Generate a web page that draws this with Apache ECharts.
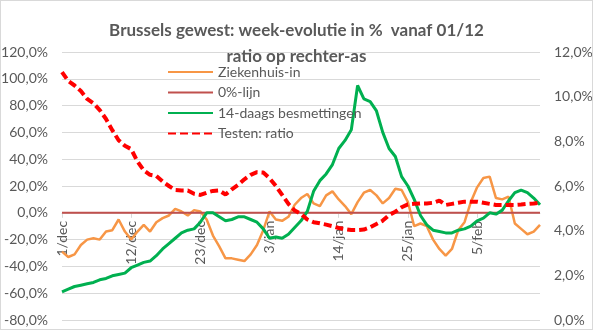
<!DOCTYPE html>
<html><head><meta charset="utf-8">
<script src="https://cdn.jsdelivr.net/npm/echarts@6/dist/echarts.min.js"></script>
<style>html,body{margin:0;padding:0;background:#fff}#c{width:591px;height:328px;border:1px solid #d9d9d9}</style>
</head><body><div id="c"></div>
<script>
const categories = [
'1/dec','2/dec','3/dec','4/dec','5/dec','6/dec','7/dec','8/dec','9/dec','10/dec','11/dec','12/dec','13/dec','14/dec','15/dec','16/dec','17/dec','18/dec','19/dec','20/dec','21/dec','22/dec','23/dec','24/dec','25/dec','26/dec','27/dec','28/dec','29/dec','30/dec','31/dec',
'1/jan','2/jan','3/jan','4/jan','5/jan','6/jan','7/jan','8/jan','9/jan','10/jan','11/jan','12/jan','13/jan','14/jan','15/jan','16/jan','17/jan','18/jan','19/jan','20/jan','21/jan','22/jan','23/jan','24/jan','25/jan','26/jan','27/jan','28/jan','29/jan','30/jan','31/jan',
'1/feb','2/feb','3/feb','4/feb','5/feb','6/feb','7/feb','8/feb','9/feb','10/feb','11/feb','12/feb','13/feb','14/feb','15/feb'];

const ziekenhuisIn = [-29,-33,-31,-24,-20,-19,-20,-14,-13,-5,-14,-20,-14,-9,-14,-7,-4,-2,3,1,-2,2,1,-5,-17,-25,-34,-34,-35,-36,-31,-24,-13,1,-5,-6,-3,6,11,14,7,5,13,16,10,5,-1,8,15,17,13,7,11,18,17,8,-10,-8,-10,-20,-27,-32,-27,-13,-7,8,19,26,27,11,10,12,-8,-12,-16,-14,-9];

const nulLijn = categories.map(() => 0);

const besmettingen14 = [-59,-57,-55,-54,-53,-52,-50,-49,-47,-46,-45,-41,-39,-37,-36,-32,-27,-23,-19,-15,-13,-12,-7,0,0,-3,-6,-5,-3,-3,-5,-7,-12,-19,-18,-19,-16,-11,-6,1,16,24,29,36,48,54,62,95,85,83,76,60,48,42,27,20,10,-2,-9,-13,-14,-15,-15,-13,-12,-10,-6,-4,0,-1,2,9,15,17,15,11,6];

const testenRatio = [11.1,10.7,10.5,10.25,9.9,9.7,9.4,9.0,8.5,8.05,7.8,7.65,7.1,6.7,6.5,6.45,6.2,6.0,5.82,5.8,5.8,5.65,5.6,5.7,5.78,5.8,5.62,5.85,6.05,6.3,6.5,6.62,6.6,6.35,6.0,5.6,5.2,4.9,4.75,4.5,4.38,4.33,4.27,4.2,4.12,4.07,4.03,4.03,4.05,4.15,4.3,4.45,4.7,4.85,5.05,5.18,5.2,5.22,5.22,5.25,5.35,5.15,5.2,5.25,5.3,5.3,5.3,5.25,5.2,5.15,5.15,5.15,5.15,5.17,5.2,5.22,5.25];

const FONT = 'Lato';
const TXT = '#595959';
const fmt = v => v.toFixed(1).replace('.', ',') + '%';

const GRID_TOP = 51, GRID_BOTTOM_Y = 319;
const zeroY = GRID_TOP + (GRID_BOTTOM_Y - GRID_TOP) * (120 / 200);

const chart = echarts.init(document.getElementById('c'));
chart.setOption({
  animation: false,
  textStyle: {fontFamily: FONT},
  title: [
    {text: 'Brussels gewest: week-evolutie in %  vanaf 01/12', left: 'center', top: 16,
     textStyle: {fontFamily: FONT, fontSize: 17, fontWeight: 'bold', color: TXT}},
    {text: 'ratio op rechter-as', left: 'center', top: 42,
     textStyle: {fontFamily: FONT, fontSize: 17, fontWeight: 'bold', color: TXT}}
  ],
  legend: {
    orient: 'vertical', left: 166, top: 64, padding: 0, itemWidth: 45, itemHeight: 14, itemGap: 6.5,
    itemStyle: {opacity: 0},
    textStyle: {fontFamily: FONT, fontSize: 14, color: TXT},
    data: ['Ziekenhuis-in', '0%-lijn', '14-daags besmettingen', 'Testen: ratio']
  },
  grid: {left: 61, right: 52, top: GRID_TOP, bottom: 330 - 2 - GRID_BOTTOM_Y, containLabel: false, outerBoundsMode: 'none'},
  xAxis: {
    type: 'category', data: categories, boundaryGap: false,
    offset: -(GRID_BOTTOM_Y - zeroY),
    axisLine: {onZero: false, lineStyle: {color: '#d9d9d9'}},
    axisTick: {show: true, interval: 10, length: 5, lineStyle: {color: '#d9d9d9'}},
    axisLabel: {interval: 10, rotate: 90, margin: 8, color: TXT, fontFamily: FONT, fontSize: 14},
    splitLine: {show: false}
  },
  yAxis: [
    {type: 'value', min: -80, max: 120, interval: 20,
     axisLine: {show: false}, axisTick: {show: false},
     axisLabel: {formatter: fmt, color: TXT, fontFamily: FONT, fontSize: 14, margin: 14},
     splitLine: {lineStyle: {color: '#d9d9d9', width: 1}}},
    {type: 'value', min: 0, max: 12, interval: 2, position: 'right',
     axisLine: {show: false}, axisTick: {show: false},
     axisLabel: {formatter: fmt, color: TXT, fontFamily: FONT, fontSize: 14, margin: 14},
     splitLine: {show: false}}
  ],
  series: [
    {name: 'Ziekenhuis-in', type: 'line', data: ziekenhuisIn, yAxisIndex: 0, symbol: 'none',
     lineStyle: {color: '#F79646', width: 2.5}, itemStyle: {color: '#F79646'}},
    {name: '0%-lijn', type: 'line', data: nulLijn, yAxisIndex: 0, symbol: 'none',
     lineStyle: {color: '#C0504D', width: 2}, itemStyle: {color: '#C0504D'}},
    {name: '14-daags besmettingen', type: 'line', data: besmettingen14, yAxisIndex: 0, symbol: 'none',
     lineStyle: {color: '#00B050', width: 3}, itemStyle: {color: '#00B050'}},
    {name: 'Testen: ratio', type: 'line', data: testenRatio, yAxisIndex: 1, symbol: 'none',
     lineStyle: {color: '#FF0000', width: 4, type: [8, 4]}, itemStyle: {color: '#FF0000'}}
  ]
});
</script></body></html>
